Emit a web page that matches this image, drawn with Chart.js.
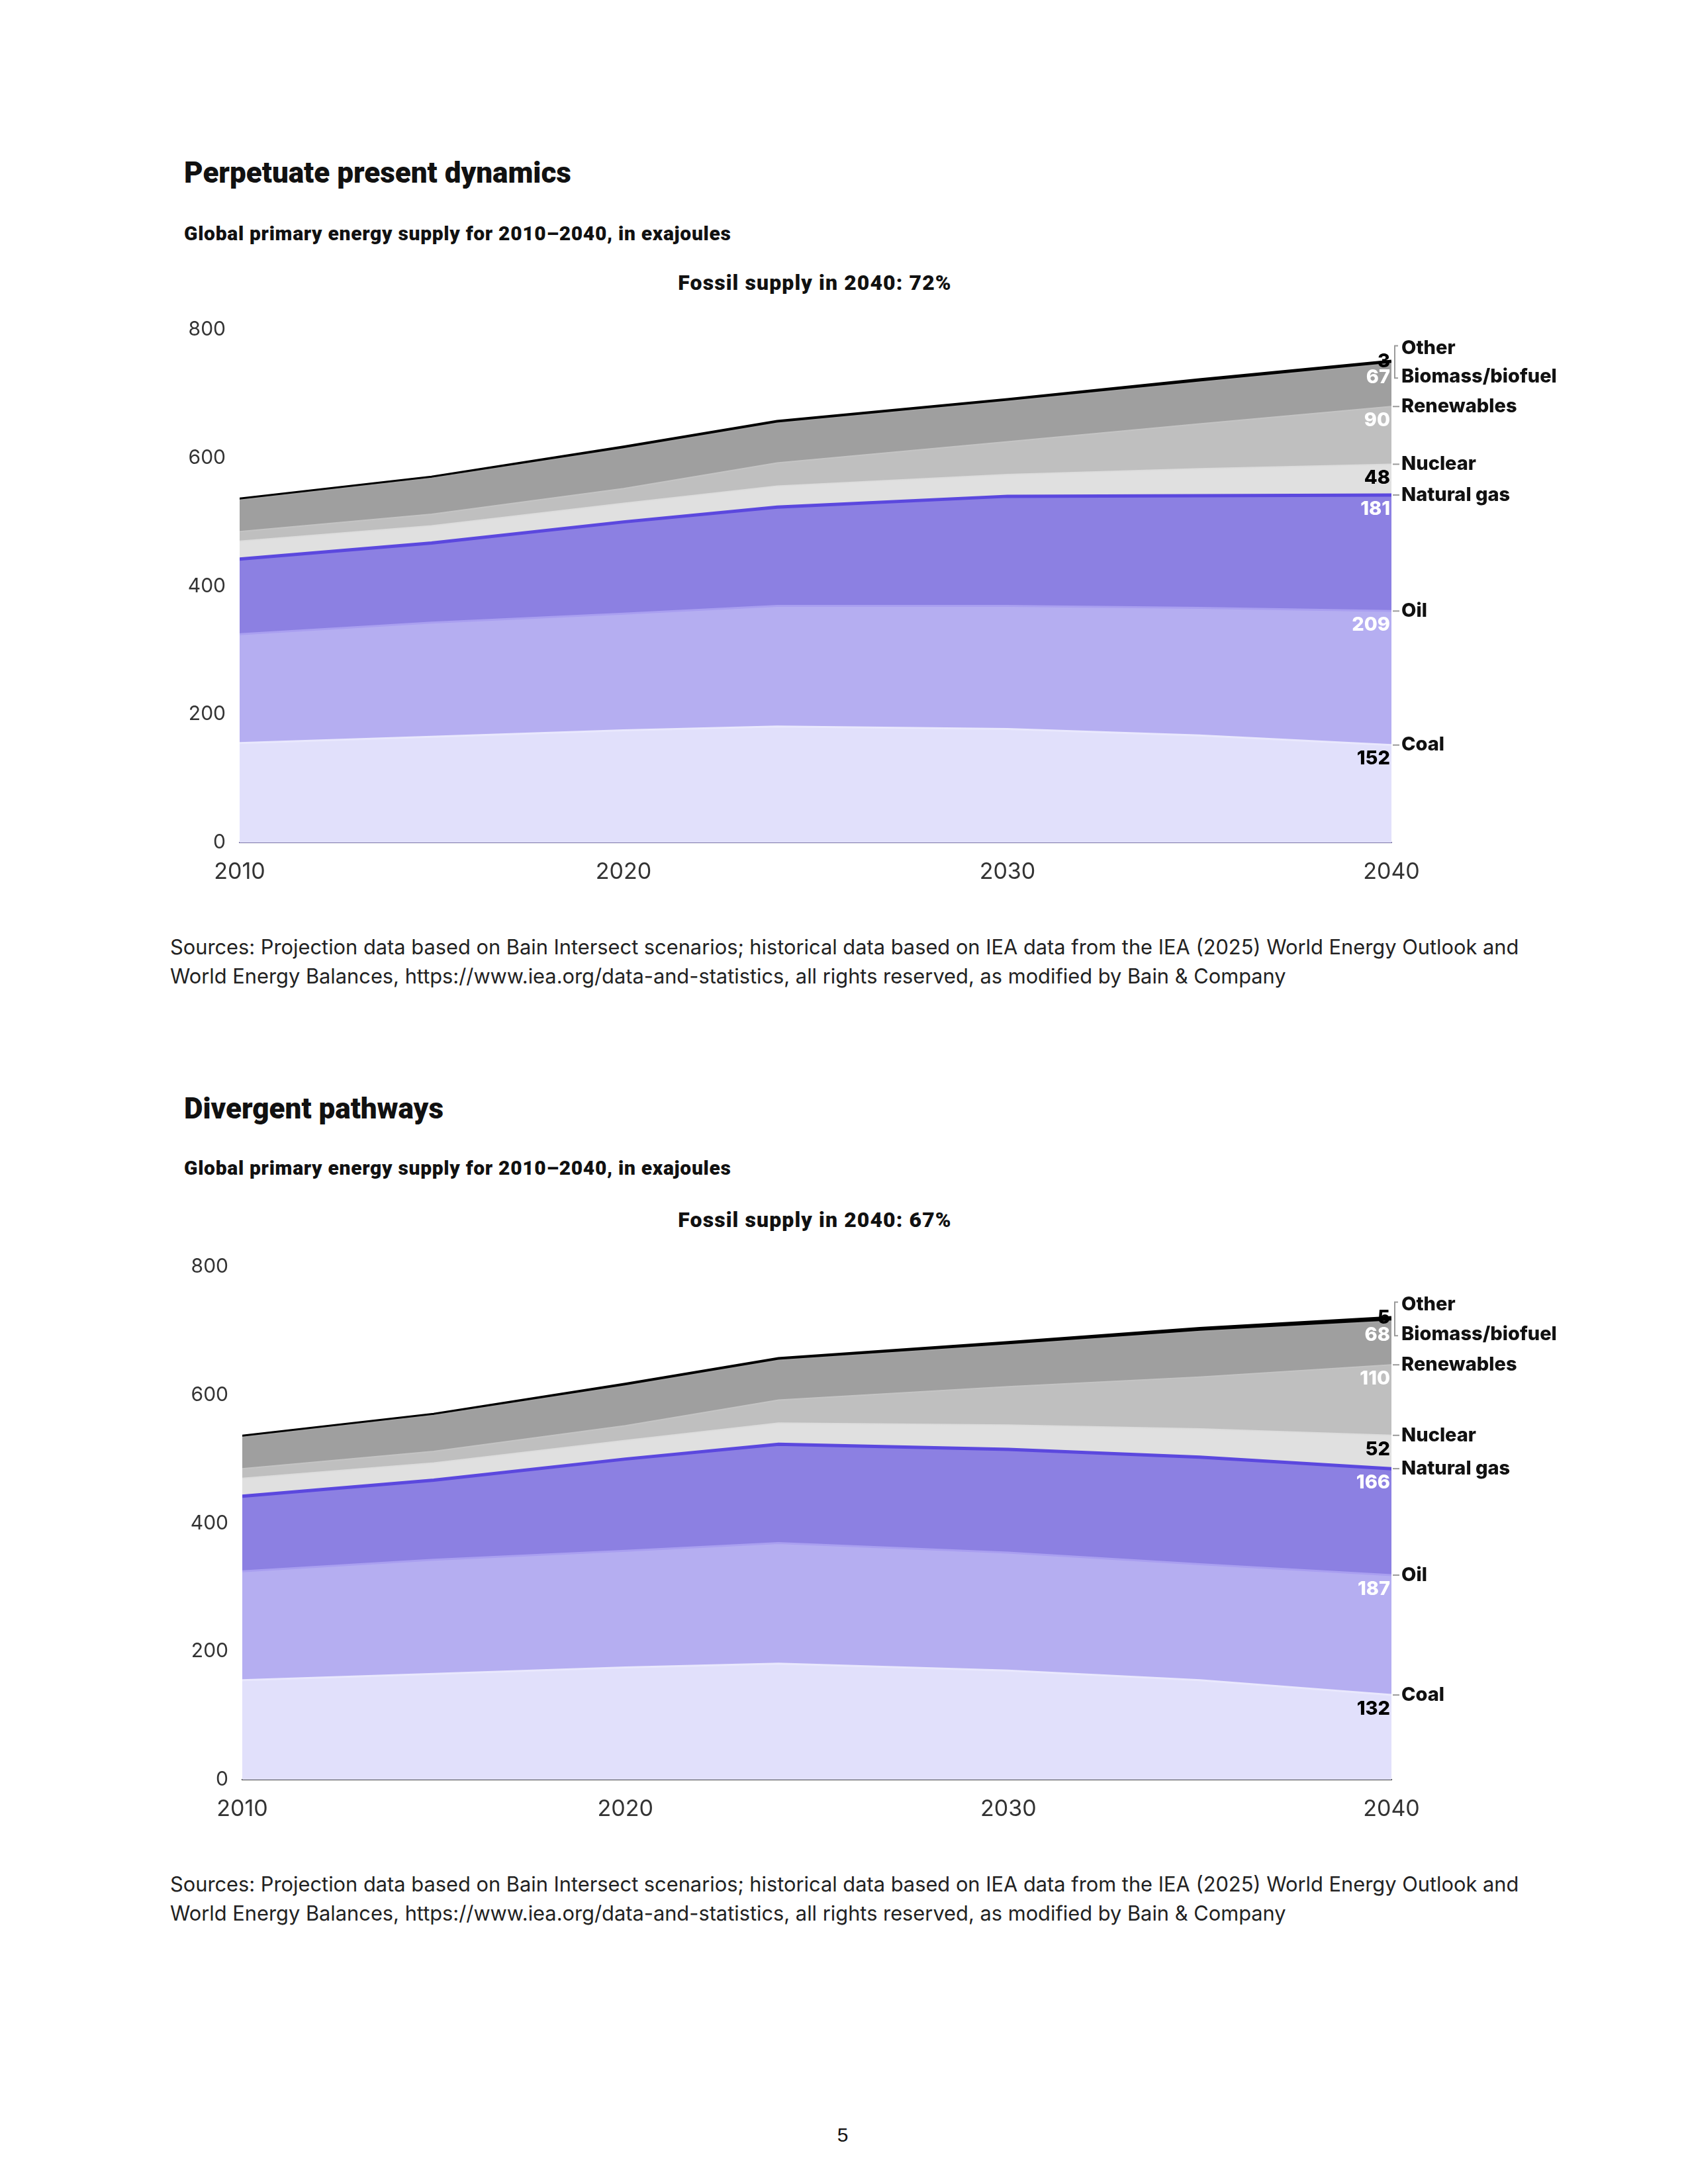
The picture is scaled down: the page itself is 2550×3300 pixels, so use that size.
<!DOCTYPE html>
<html>
<head>
<meta charset="utf-8">
<script src="https://cdn.jsdelivr.net/npm/chart.js@4.4.1/dist/chart.umd.min.js"></script>
<style>
  html, body { margin: 0; padding: 0; background: #fff; }
  body { width: 2550px; height: 3300px; position: relative; overflow: hidden; font-family: Inter, "Noto Sans", sans-serif; color: #111; }
  .txt { position: absolute; line-height: 1; white-space: nowrap; }
  .title { left: 278px; font-family: Roboto, Inter, sans-serif; font-weight: 900; font-size: 44px; letter-spacing: 0px; color: #111; }
  .sub { left: 278px; font-family: Roboto, Inter, sans-serif; font-weight: 900; font-size: 30px; letter-spacing: 0.7px; color: #111; }
  .fossil { left: 1231px; transform: translateX(-50%); font-family: Roboto, Inter, sans-serif; font-weight: 900; font-size: 32px; letter-spacing: 1.1px; color: #111; }
  .src { left: 257px; font-size: 30.8px; line-height: 44px; color: #222; font-weight: 400; }
  .page { left: 1273px; transform: translateX(-50%); font-family: "Liberation Sans", Arial, sans-serif; font-size: 30px; color: #111; }
  .panel { position: absolute; left: 0; }
</style>
</head>
<body>

<div class="txt title" style="top:239px">Perpetuate present dynamics</div>
<div class="txt sub" style="top:338px">Global primary energy supply for 2010–2040, in exajoules</div>
<div class="txt fossil" style="top:411px">Fossil supply in 2040: 72%</div>
<canvas id="chartA" class="panel" width="2550" height="940" style="top:440px"></canvas>
<div class="txt src" style="top:1409px">Sources: Projection data based on Bain Intersect scenarios; historical data based on IEA data from the IEA (2025) World Energy Outlook and<br>World Energy Balances, https://www.iea.org/data-and-statistics, all rights reserved, as modified by Bain &amp; Company</div>

<div class="txt title" style="top:1653px">Divergent pathways</div>
<div class="txt sub" style="top:1750px">Global primary energy supply for 2010–2040, in exajoules</div>
<div class="txt fossil" style="top:1827px">Fossil supply in 2040: 67%</div>
<canvas id="chartB" class="panel" width="2550" height="940" style="top:1856px"></canvas>
<div class="txt src" style="top:2825px">Sources: Projection data based on Bain Intersect scenarios; historical data based on IEA data from the IEA (2025) World Energy Outlook and<br>World Energy Balances, https://www.iea.org/data-and-statistics, all rights reserved, as modified by Bain &amp; Company</div>

<div class="txt page" style="top:3211px">5</div>

<script>
// years with a data point (historical to 2024, projections after)
const years = [2010, 2015, 2020, 2024, 2030, 2035, 2040];
const seriesNames = ['Coal', 'Oil', 'Natural gas', 'Nuclear', 'Renewables', 'Biomass/biofuel', 'Other'];
const yTicks = [0, 200, 400, 600, 800];
const xTicks = [2010, 2020, 2030, 2040];

// Perpetuate present dynamics, EJ
const coalA = [155, 165, 175, 181, 177, 167, 152];
const oilA = [170, 178, 182, 188, 192, 199, 209];
const gasA = [117, 124, 143, 154, 171, 175, 181];
const nuclearA = [28, 27, 29, 33, 34, 42, 48];
const renewA = [15, 18, 23, 36, 51, 70, 90];
const biomassA = [49, 56, 62, 62, 63, 65, 67];
const otherA = [1, 1, 2, 2, 2, 3, 3];

// Divergent pathways, EJ
const coalB = [155, 165, 175, 181, 170, 155, 132];
const oilB = [170, 178, 182, 188, 184, 181, 187];
const gasB = [117, 124, 143, 154, 161, 167, 166];
const nuclearB = [28, 27, 29, 33, 38, 44, 52];
const renewB = [15, 18, 23, 36, 60, 81, 110];
const biomassB = [49, 56, 62, 62, 65, 71, 68];
const otherB = [1, 1, 2, 2, 3, 4, 5];

const fills = ['#e1e0fb', '#b5aef1', '#8c80e2', '#e0e0e0', '#bfbfbf', '#9f9f9f', '#111111'];
const borders = ['#e9e8fd', '#a99ff0', '#5b48de', '#dcdcdc', '#c4c4c4', '#a3a3a3', '#000000'];
const borderW = [3, 3, 5, 2, 2, 2, 6];
const valueColors = ['#000', '#fff', '#fff', '#000', '#fff', '#fff', '#000'];

// labels at the right end of each band
const endLabels = {
    id: 'endLabels',
    afterDatasetsDraw(chart) {
        const ctx = chart.ctx;
        const right = chart.chartArea.right;
        const last = years.length - 1;
        ctx.save();
        ctx.textBaseline = 'middle';
        const tops = chart.data.datasets.map((ds, i) => chart.getDatasetMeta(i).data[last].y);
        const labelY = tops.map((y, i) => i === 6 ? y - 20 : (i === 5 ? y + 20 : y));

        // leader ticks and the bracket for Other / Biomass
        ctx.strokeStyle = '#9a9a9a';
        ctx.lineWidth = 2;
        for (let i = 0; i < 5; i++) {
            ctx.beginPath();
            ctx.moveTo(right + 2, tops[i]);
            ctx.lineTo(right + 12, tops[i]);
            ctx.stroke();
        }
        ctx.beginPath();
        ctx.moveTo(right + 10, labelY[6] - 4);
        ctx.lineTo(right + 5, labelY[6] - 4);
        ctx.lineTo(right + 5, labelY[5] + 2);
        ctx.lineTo(right + 10, labelY[5] + 2);
        ctx.stroke();

        ctx.font = '800 29px Inter';
        ctx.fillStyle = '#111';
        ctx.textAlign = 'left';
        seriesNames.forEach((name, i) => ctx.fillText(name, right + 15, labelY[i]));

        ctx.textAlign = 'right';
        chart.data.datasets.forEach((ds, i) => {
            const v = ds.data[last].y;
            const y = i === 6 ? tops[i] : tops[i] + 21;
            ctx.fillStyle = valueColors[i];
            ctx.fillText(String(v), right - 2, y);
        });
        ctx.restore();
    }
};

function makeChart(id, series, leftEdge, axisColor) {
    const datasets = series.map((vals, i) => ({
        label: seriesNames[i],
        data: vals.map((v, k) => ({ x: years[k], y: v })),
        backgroundColor: fills[i],
        borderColor: borders[i],
        borderWidth: borderW[i],
        fill: i === 0 ? 'origin' : '-1',
        pointRadius: 0,
        tension: 0
    }));

    return new Chart(document.getElementById(id), {
        type: 'line',
        data: { datasets },
        plugins: [endLabels],
        options: {
            responsive: false,
            animation: false,
            layout: { padding: { top: 58, right: 448, left: 0, bottom: 0 } },
            plugins: {
                legend: { display: false },
                tooltip: { enabled: false }
            },
            scales: {
                x: {
                    type: 'linear',
                    min: 2010,
                    max: 2040,
                    afterBuildTicks: s => { s.ticks = xTicks.map(v => ({ value: v })); },
                    ticks: {
                        color: '#333',
                        padding: 24,
                        font: { family: 'Inter', size: 34 },
                        callback: v => String(v)
                    },
                    grid: { display: false, drawTicks: false },
                    border: { display: true, color: axisColor, width: 2 },
                    afterFit: s => { s.height = 107; }
                },
                y: {
                    stacked: true,
                    min: 0,
                    max: 800,
                    afterBuildTicks: s => { s.ticks = yTicks.map(v => ({ value: v })); },
                    ticks: {
                        color: '#333',
                        padding: 21,
                        font: { family: 'Inter', size: 30 }
                    },
                    grid: { display: false, drawTicks: false },
                    border: { display: false },
                    afterFit: s => { s.width = leftEdge; }
                }
            }
        }
    });
}

makeChart('chartA', [coalA, oilA, gasA, nuclearA, renewA, biomassA, otherA], 362, '#7d78a8');
makeChart('chartB', [coalB, oilB, gasB, nuclearB, renewB, biomassB, otherB], 366, '#444444');
</script>
</body>
</html>
